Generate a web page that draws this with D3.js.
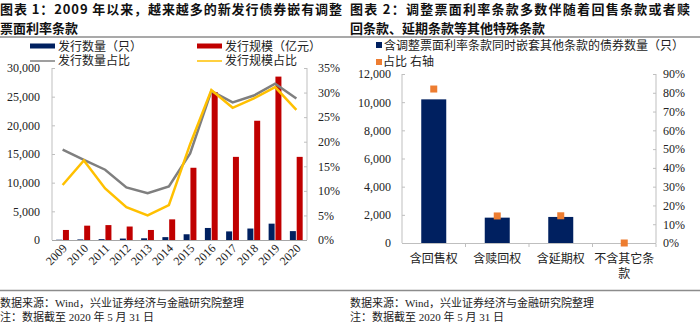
<!DOCTYPE html>
<html><head><meta charset="utf-8">
<script src="https://cdn.jsdelivr.net/npm/d3@7"></script>
<style>
html,body{margin:0;padding:0;background:#fff;}
svg{display:block;}
text{font-family:"Liberation Serif","Noto Sans CJK SC",serif;fill:#222;}
.title{font-family:"Noto Sans CJK SC",sans-serif;font-weight:bold;font-size:13px;fill:#111;}
</style></head><body>
<svg id="c" width="700" height="325"></svg>
<script>
// ---- Chart 1 data ----
const years = ["2009","2010","2011","2012","2013","2014","2015","2016","2017","2018","2019","2020"];
const issueCount = [50,100,150,250,300,500,1000,2100,1500,2000,2850,1550];          // 发行数量（只）
const issueSize  = [1750,2500,2600,2350,1750,3600,12600,25800,14500,20800,28500,14500]; // 发行规模（亿元）
const countShare = [0.184,0.163,0.143,0.107,0.095,0.109,0.176,0.303,0.280,0.294,0.318,0.288]; // 发行数量占比
const sizeShare  = [0.112,0.162,0.105,0.067,0.050,0.071,0.195,0.305,0.269,0.288,0.311,0.265]; // 发行规模占比
const leftTicks1 = [0,5000,10000,15000,20000,25000,30000];
const rightTicks1 = [0,0.05,0.10,0.15,0.20,0.25,0.30,0.35];

// ---- Chart 2 data ----
const cats2 = ["含回售权","含赎回权","含延期权","不含其它条款"];
const catLines2 = [["含回售权"],["含赎回权"],["含延期权"],["不含其它条","款"]];
const bondCount2 = [10200,1800,1850,0];
const share2 = [0.82,0.144,0.145,0.0];
const leftTicks2 = [0,2000,4000,6000,8000,10000,12000];
const rightTicks2 = [0,0.1,0.2,0.3,0.4,0.5,0.6,0.7,0.8,0.9];

const NAVY="#002060", RED="#C00000", GRAY="#7f7f7f", YELLOW="#FFC000", ORANGE="#ED7D31", AX="#bfbfbf";
const svg = d3.select("#c");
const fmt = d3.format(",");
const pct = d3.format(".0%");

// Titles
function title(x, lines, len){
  lines.forEach((t,i)=>{
    const tx = svg.append("text").attr("class","title").attr("x",x).attr("y",14+i*19).text(t);
    if(i===0) tx.attr("textLength",len).attr("lengthAdjust","spacing");
  });
}
title(0,["图表 1：2009 年以来，越来越多的新发行债券嵌有调整","票面利率条款"],342);
title(350,["图表 2：调整票面利率条款多数伴随着回售条款或者赎","回条款、延期条款等其他特殊条款"],340);
svg.append("line").attr("x1",0).attr("x2",700).attr("y1",37).attr("y2",37).attr("stroke","#8c8c8c").attr("stroke-width",1.5);
svg.append("line").attr("x1",0).attr("x2",700).attr("y1",290.5).attr("y2",290.5).attr("stroke","#8c8c8c").attr("stroke-width",1.5);
[0,350].forEach(x=>{
  svg.append("text").attr("x",x).attr("y",307).attr("font-size",11).text("数据来源：Wind，兴业证券经济与金融研究院整理");
  svg.append("text").attr("x",x).attr("y",321).attr("font-size",11).text("注：数据截至 2020 年 5 月 31 日");
});

// ---------- Chart 1 ----------
{
  const x = d3.scaleBand().domain(years).range([52,307]).padding(0);
  const yL = d3.scaleLinear().domain([0,30000]).range([240,68]);
  const yR = d3.scaleLinear().domain([0,0.35]).range([240,68]);
  const g = svg.append("g");
  const c = d => x(d)+x.bandwidth()/2;

  const axL = g.append("g").attr("transform","translate(52,0)").call(d3.axisLeft(yL).tickValues(leftTicks1).tickSize(-3).tickFormat(fmt).tickPadding(12));
  const axR = g.append("g").attr("transform","translate(307,0)").call(d3.axisRight(yR).tickValues(rightTicks1).tickSize(-3).tickFormat(pct).tickPadding(11));
  [axL,axR].forEach(a=>{a.selectAll("path,line").attr("stroke",AX);a.selectAll("text").attr("font-size",12).attr("fill","#222").attr("font-family",'"Liberation Serif",serif');});
  axL.select(".domain").remove(); axL.append("line").attr("y1",yL(0)).attr("y2",yL(30000)).attr("stroke",AX);
  axR.select(".domain").remove(); axR.append("line").attr("y1",yR(0)).attr("y2",yR(0.35)).attr("stroke",AX);

  g.selectAll(".bc").data(years).join("rect").attr("x",d=>c(d)-6.5).attr("width",6)
    .attr("y",(d,i)=>yL(issueCount[i])).attr("height",(d,i)=>yL(0)-yL(issueCount[i])).attr("fill",NAVY);
  g.selectAll(".bs").data(years).join("rect").attr("x",d=>c(d)+0.3).attr("width",6)
    .attr("y",(d,i)=>yL(issueSize[i])).attr("height",(d,i)=>yL(0)-yL(issueSize[i])).attr("fill",RED);

  g.append("line").attr("x1",52).attr("x2",307).attr("y1",240.5).attr("y2",240.5).attr("stroke","#a6a6a6");
  g.selectAll(".xl").data(years).join("text").attr("font-size",12).attr("text-anchor","end")
    .attr("transform",d=>`translate(${c(d)+5},${249}) rotate(-45)`).text(d=>d);

  const line = arr => d3.line().x((d,i)=>c(years[i])).y(d=>yR(d))(arr);
  g.append("path").attr("d",line(countShare)).attr("fill","none").attr("stroke",GRAY).attr("stroke-width",2.5);
  g.append("path").attr("d",line(sizeShare)).attr("fill","none").attr("stroke",YELLOW).attr("stroke-width",2.5);

  const lg = [
    {x:30,y:46,t:"发行数量（只）",type:"rect",col:NAVY},
    {x:197,y:46,t:"发行规模（亿元）",type:"rect",col:RED},
    {x:30,y:60,t:"发行数量占比",type:"line",col:GRAY},
    {x:197,y:60,t:"发行规模占比",type:"line",col:YELLOW}
  ];
  lg.forEach(l=>{
    if(l.type==="rect") g.append("rect").attr("x",l.x).attr("y",l.y-2.5).attr("width",25).attr("height",5).attr("fill",l.col);
    else g.append("line").attr("x1",l.x).attr("x2",l.x+25).attr("y1",l.y+1).attr("y2",l.y+1).attr("stroke",l.col).attr("stroke-width",1.5);
    g.append("text").attr("x",l.x+28).attr("y",l.y+4.5).attr("font-size",12).attr("fill","#444").text(l.t);
  });
}

// ---------- Chart 2 ----------
{
  const x = d3.scaleBand().domain(cats2).range([402,656]).padding(0);
  const yL = d3.scaleLinear().domain([0,12000]).range([243,74]);
  const yR = d3.scaleLinear().domain([0,0.9]).range([243,74]);
  const g = svg.append("g");
  const c = d => x(d)+x.bandwidth()/2;

  const axL = g.append("g").attr("transform","translate(402,0)").call(d3.axisLeft(yL).tickValues(leftTicks2).tickSize(-3).tickFormat(fmt).tickPadding(11));
  const axR = g.append("g").attr("transform","translate(656,0)").call(d3.axisRight(yR).tickValues(rightTicks2).tickSize(-3).tickFormat(pct).tickPadding(7));
  [axL,axR].forEach(a=>{a.selectAll("path,line").attr("stroke",AX);a.selectAll("text").attr("font-size",12).attr("fill","#222").attr("font-family",'"Liberation Serif",serif');});
  axL.select(".domain").remove(); axL.append("line").attr("y1",yL(0)).attr("y2",yL(12000)).attr("stroke",AX);
  axR.select(".domain").remove(); axR.append("line").attr("y1",yR(0)).attr("y2",yR(0.9)).attr("stroke",AX);

  g.selectAll(".b2").data(cats2).join("rect").attr("x",d=>c(d)-12.5).attr("width",25)
    .attr("y",(d,i)=>yL(bondCount2[i])).attr("height",(d,i)=>yL(0)-yL(bondCount2[i])).attr("fill",NAVY);

  g.append("line").attr("x1",402).attr("x2",656).attr("y1",243.5).attr("y2",243.5).attr("stroke",AX);
  g.selectAll(".tk").data(cats2).join("line").attr("x1",d=>x(d)+x.bandwidth()).attr("x2",d=>x(d)+x.bandwidth())
    .attr("y1",243.5).attr("y2",247).attr("stroke",AX);
  cats2.forEach((d,i)=>{
    catLines2[i].forEach((t,j)=>g.append("text").attr("x",c(d)).attr("y",263+j*15).attr("text-anchor","middle").attr("font-size",12).attr("fill","#333").text(t));
  });

  g.selectAll(".sq").data(cats2).join("rect").attr("x",d=>c(d)-3.5).attr("width",7)
    .attr("y",(d,i)=>yR(share2[i])-3.5).attr("height",7).attr("fill",ORANGE);

  g.append("rect").attr("x",376).attr("y",42).attr("width",6).attr("height",6).attr("fill",NAVY);
  g.append("text").attr("x",384).attr("y",49.5).attr("font-size",12).attr("fill","#444").text("含调整票面利率条款同时嵌套其他条款的债券数量（只）");
  g.append("rect").attr("x",376).attr("y",59).attr("width",6).attr("height",6).attr("fill",ORANGE);
  g.append("text").attr("x",383).attr("y",66).attr("font-size",12).attr("fill","#444").text("占比 右轴");
}
</script>
</body></html>
